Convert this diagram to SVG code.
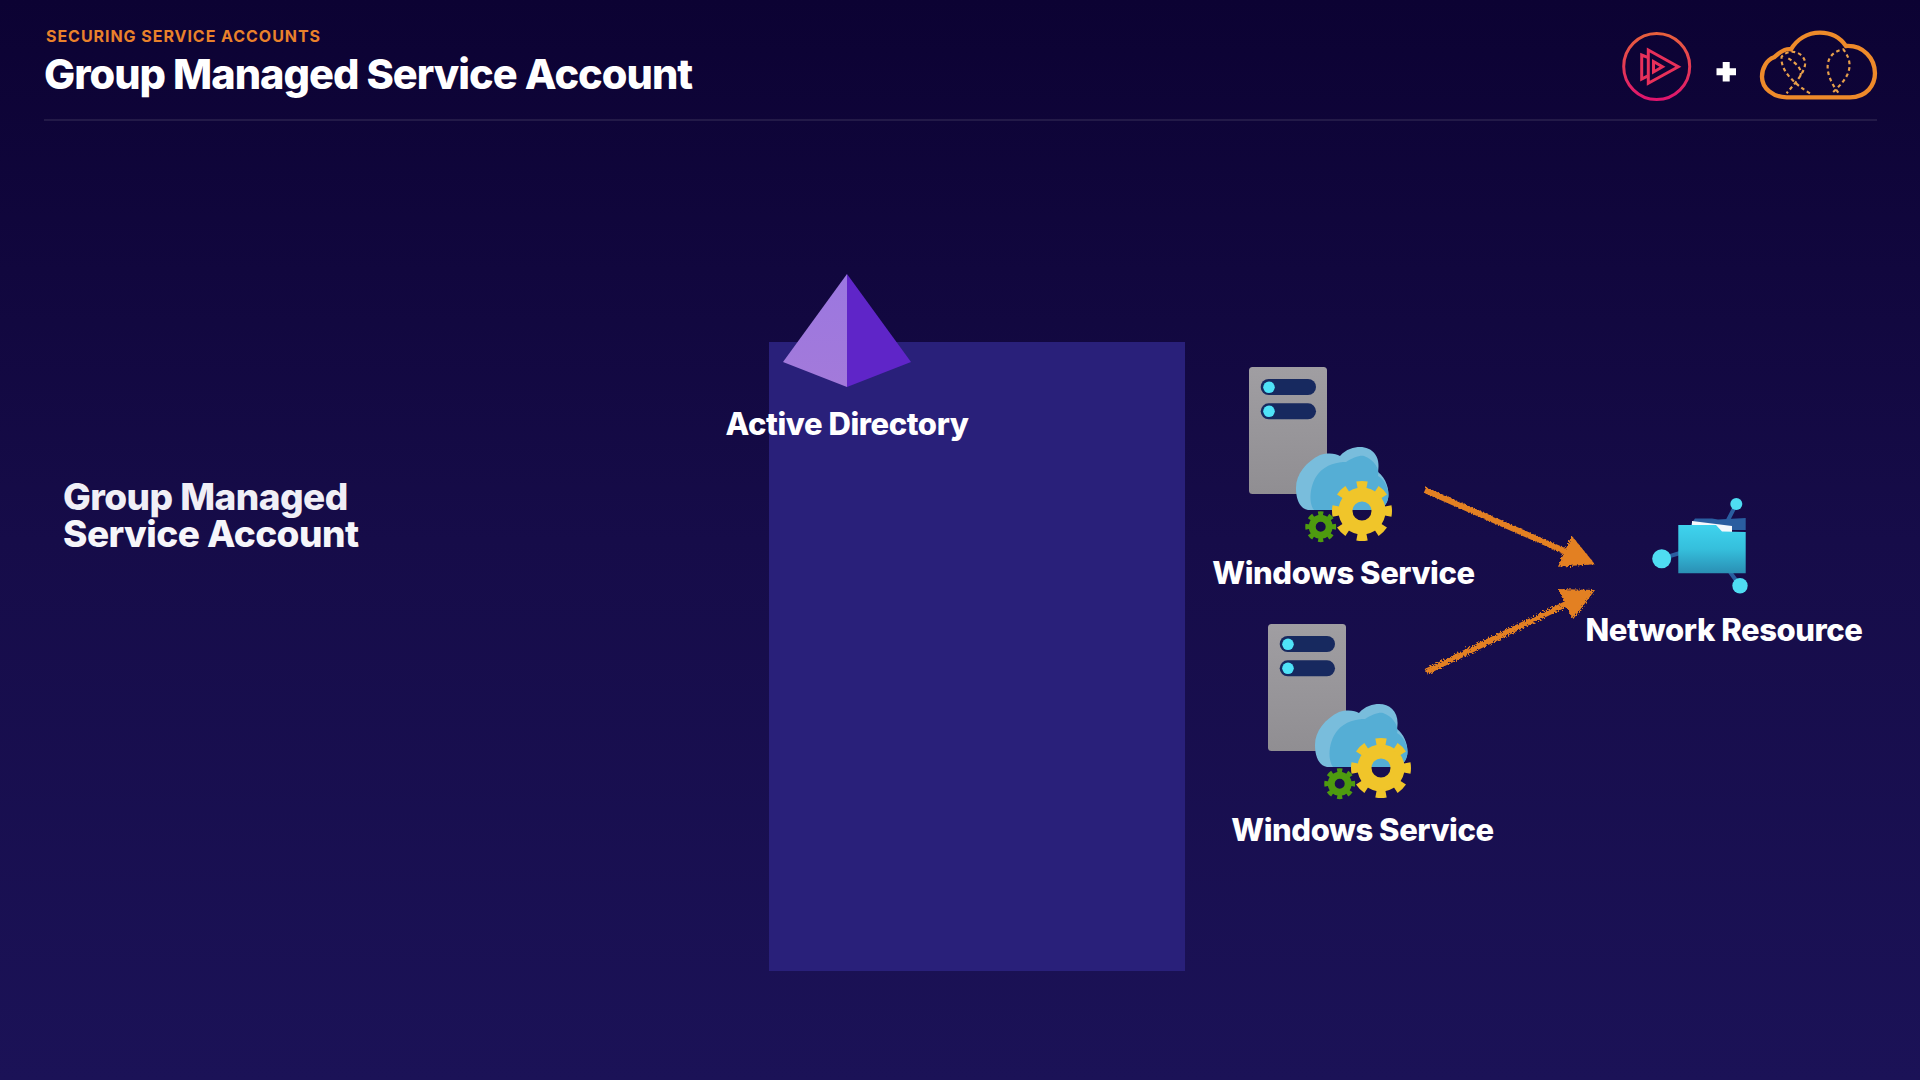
<svg xmlns="http://www.w3.org/2000/svg" xmlns:xlink="http://www.w3.org/1999/xlink" width="1920" height="1080" viewBox="0 0 1920 1080">
<style>
text{font-family:Inter,"Liberation Sans",sans-serif;font-weight:800;fill:#fff}
.t{font-size:31px;letter-spacing:-.42px}
.ar{fill:none;stroke:#e38022;stroke-width:6}
</style>
<defs>
<linearGradient id="bg" x1="0" y1="0" x2="0" y2="1"><stop offset="0" stop-color="#0c0233"/><stop offset=".5" stop-color="#160c49"/><stop offset="1" stop-color="#1b1257"/></linearGradient>
<linearGradient id="pl" x1="0" y1="0" x2="0" y2="1"><stop offset="0" stop-color="#e8603c"/><stop offset="1" stop-color="#e0146e"/></linearGradient>
<linearGradient id="pyrL" x1="0" y1="0" x2="0" y2="1"><stop offset="0" stop-color="#9b77e0"/><stop offset="1" stop-color="#a37ada"/></linearGradient>
<linearGradient id="srv" x1="0" y1="0" x2="0" y2="1"><stop offset="0" stop-color="#a09ea2"/><stop offset="1" stop-color="#908e92"/></linearGradient>
<linearGradient id="fold" x1="0" y1="0" x2="0" y2="1"><stop offset="0" stop-color="#3fd3ee"/><stop offset=".5" stop-color="#35bfdc"/><stop offset="1" stop-color="#2a8fb4"/></linearGradient>
<marker id="head" markerUnits="userSpaceOnUse" markerWidth="50" markerHeight="50" refX="27" refY="25" orient="auto"><path d="M0 8L33 25L0 42Z" fill="#e38022"/></marker>
<filter id="rough" x="-10%" y="-10%" width="120%" height="120%"><feTurbulence type="fractalNoise" baseFrequency=".6" numOctaves="2" seed="4"/><feDisplacementMap in="SourceGraphic" scale="5"/></filter>
<g id="winsvc">
<rect x="1249" y="367" width="78" height="127" rx="3.5" fill="url(#srv)"/>
<rect x="1260.7" y="379" width="55.3" height="16" rx="8" fill="#17295f"/>
<rect x="1260.7" y="403.3" width="55.3" height="16" rx="8" fill="#17295f"/>
<circle cx="1269" cy="387.3" r="5.8" fill="#4fe3f8"/>
<circle cx="1269" cy="411.3" r="5.8" fill="#4fe3f8"/>
<path d="M1308 510C1298 508 1296 496 1296 488C1296 474 1306 462 1320 455C1330 452 1336 454 1340 456C1346 449 1354 447 1360 447C1372 447 1381 456 1378 472C1386 478 1390 490 1388 499C1386 507 1380 510 1376 510Z" fill="#79bddc"/>
<path d="M1314 510C1308 502 1310 484 1318 474C1326 464 1338 462 1346 462C1352 458 1360 455 1364 456C1375 460 1380 470 1378 476C1386 480 1390 492 1388 499C1386 507 1380 510 1376 510Z" fill="#55aed5"/>
<circle cx="1362" cy="511" r="16.5" fill="none" stroke="#f0c52a" stroke-width="14"/>
<circle cx="1362" cy="511" r="26" fill="none" stroke="#f0c52a" stroke-width="8" pathLength="160" stroke-dasharray="10 10" stroke-dashoffset="5"/>
<circle cx="1320.7" cy="526.7" r="8.5" fill="none" stroke="#4e9b0f" stroke-width="7"/>
<circle cx="1320.7" cy="526.7" r="13.2" fill="none" stroke="#4e9b0f" stroke-width="4.5" pathLength="160" stroke-dasharray="10 10" stroke-dashoffset="5"/>
</g>
</defs>
<rect width="1920" height="1080" fill="url(#bg)"/>
<g id="header">
<text x="46" y="41.5" style="font-size:16px;font-weight:700;fill:#e9812b;letter-spacing:.95px">SECURING SERVICE ACCOUNTS</text>
<text x="44" y="88.5" style="font-size:41.5px;letter-spacing:-1px">Group Managed Service Account</text>
<rect x="44" y="119" width="1833" height="2" fill="#231a48"/>
</g>
<g id="logo-pluralsight" fill="none" stroke-width="3">
<circle cx="1656.7" cy="66.5" r="33" stroke="url(#pl)"/>
<path d="M1648.3 50L1678.3 66.7L1648.3 83.3ZM1648.3 57.7L1641.7 55V79L1648.3 75.7M1653.5 61.5L1662.5 66.7L1653.5 72Z" stroke="#e8305a" stroke-linejoin="miter"/>
</g>
<path id="plus" d="M1722.7 62H1729.7V68.3H1736V75.3H1729.7V81.5H1722.7V75.3H1716.5V68.3H1722.7Z" fill="#fff"/>
<g id="logo-cloud" transform="translate(1590 10) scale(.3333)" fill="none">
<path d="M590 262H780C830 262 855 225 855 190C855 145 820 105 768 108C745 75 715 68 690 68C650 68 620 90 603 118C585 115 565 130 552 142C530 150 516 175 516 200C516 235 550 262 590 262Z" stroke="#ee8a2a" stroke-width="13"/>
<path d="M745 248C700 190 700 130 760 118C800 170 770 210 725 250M660 250C610 220 570 180 575 140C600 110 650 130 645 165C640 195 610 225 590 250M595 145C620 160 640 180 630 200" stroke="#e8a04a" stroke-width="6.5" stroke-dasharray="11 9"/>
</g>
<g id="gmsa-label">
<text x="63" y="510" style="font-size:37px;letter-spacing:-.55px;fill:#f0eff6">Group Managed</text>
<text x="63" y="546.5" style="font-size:37px;letter-spacing:-.55px;fill:#f6f6fa">Service Account</text>
</g>
<rect id="panel" x="769" y="342" width="416" height="629" fill="#29207a"/>
<g id="active-directory">
<path d="M847 274L783 362L847 387Z" fill="url(#pyrL)"/>
<path d="M847 274L911 362L847 387Z" fill="#5f25c8"/>
<text x="847" y="434.5" text-anchor="middle" class="t">Active Directory</text>
</g>
<g id="service-1">
<use xlink:href="#winsvc" href="#winsvc"/>
<text x="1343.5" y="583.8" text-anchor="middle" class="t">Windows Service</text>
</g>
<g id="service-2">
<use xlink:href="#winsvc" href="#winsvc" x="19" y="257"/>
<text x="1362.5" y="840.8" text-anchor="middle" class="t">Windows Service</text>
</g>
<g id="network-resource">
<path d="M1661.7 558.7L1680 553M1736.3 504L1727 522M1740 585.7L1730 572" stroke="#2a5ea0" stroke-width="4" fill="none"/>
<path d="M1691 524L1695 518.5H1712L1718 519.5L1745.7 518V530H1691Z" fill="#2a5ea0"/>
<path d="M1692 521L1732 526V532H1692Z" fill="#f4f8fc"/>
<path d="M1678.3 525H1716L1722 531.5L1745.7 532V573.3H1678.3Z" fill="url(#fold)"/>
<circle cx="1661.7" cy="558.7" r="9.5" fill="#4fdcf2"/>
<circle cx="1736.3" cy="504" r="6" fill="#4fdcf2"/>
<circle cx="1740" cy="585.7" r="7.7" fill="#4fdcf2"/>
<text x="1724" y="640.5" text-anchor="middle" class="t">Network Resource</text>
</g>
<g id="connectors" filter="url(#rough)">
<path class="ar" d="M1425 490L1589.5 561.9" marker-end="url(#head)"/>
<path class="ar" d="M1426 671.7L1589.6 592.6" marker-end="url(#head)"/>
</g>
</svg>
